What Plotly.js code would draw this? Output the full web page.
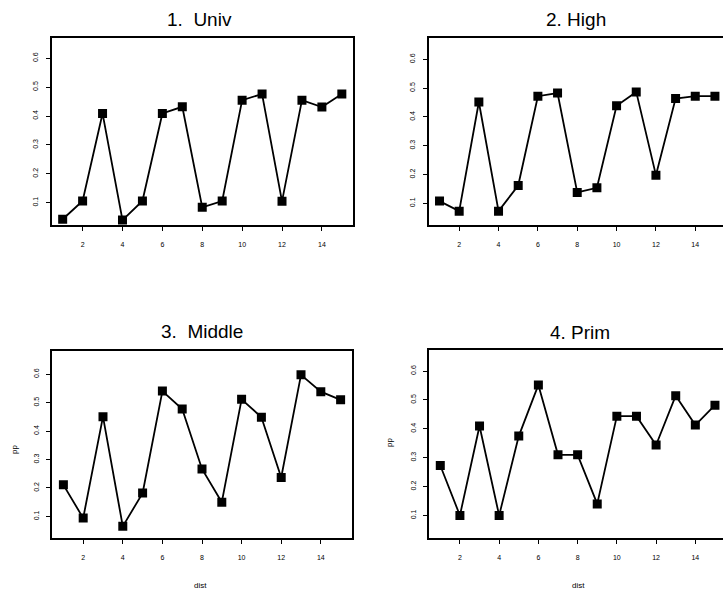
<!DOCTYPE html>
<html>
<head>
<meta charset="utf-8">
<script src="https://cdn.plot.ly/plotly-3.0.1.min.js"></script>
<style>html,body{margin:0;padding:0;background:#fff;}#chart{width:723px;height:595px;}</style>
</head>
<body>
<div id="chart"></div>
<script>
// ---- data ----
const dist = [1,2,3,4,5,6,7,8,9,10,11,12,13,14,15];
const panelTitles = ["1.\u00a0\u00a0Univ", "2.\u00a0High", "3.\u00a0\u00a0Middle", "4.\u00a0Prim"];
const univ   = [0.043,0.106,0.409,0.040,0.106,0.409,0.432,0.084,0.106,0.455,0.476,0.105,0.455,0.431,0.476];
const high   = [0.108,0.073,0.452,0.073,0.162,0.472,0.483,0.138,0.154,0.439,0.487,0.198,0.464,0.472,0.472];
const middle = [0.211,0.094,0.451,0.065,0.182,0.541,0.478,0.267,0.150,0.512,0.449,0.237,0.598,0.539,0.510];
const prim   = [0.273,0.100,0.410,0.100,0.375,0.552,0.310,0.310,0.140,0.444,0.444,0.344,0.515,0.413,0.482];
const xTicks = [2,4,6,8,10,12,14];
const yTicks = [0.1,0.2,0.3,0.4,0.5,0.6];
const xLabel = "dist";
const yLabel = "pp";

const W = 723, H = 595;
const series = [univ, high, middle, prim];

const traces = series.map((ys, i) => ({
  x: dist, y: ys, type: 'scatter', mode: 'lines+markers',
  xaxis: i === 0 ? 'x' : 'x' + (i + 1),
  yaxis: i === 0 ? 'y' : 'y' + (i + 1),
  line: {color: '#000', width: 1.8},
  marker: {symbol: 'square', size: 9, color: '#000'},
  showlegend: false, hoverinfo: 'skip'
}));

// pixel boxes [left, right, top, bottom]
const boxes = [
  [51.5, 353, 38.3, 225],
  [428.5, 723, 38.3, 225],
  [52.3, 351.7, 350.7, 538],
  [429.3, 723, 350, 538]
];
const clipped = [false, true, false, true];
const xRanges = [[0.44,15.56],[0.44,15.41],[0.44,15.56],[0.44,15.41]];
const yRanges = [[0.023,0.669],[0.025,0.673],[0.024,0.683],[0.022,0.673]];

const layout = {
  width: W, height: H,
  margin: {l:0, r:0, t:0, b:0},
  paper_bgcolor: '#fff', plot_bgcolor: '#fff',
  font: {family: 'Liberation Sans, Arial, sans-serif', color: '#000'},
  annotations: [], shapes: []
};

boxes.forEach((b, i) => {
  const xk = i === 0 ? 'xaxis' : 'xaxis' + (i + 1);
  const yk = i === 0 ? 'yaxis' : 'yaxis' + (i + 1);
  layout[xk] = {
    domain: [b[0]/W, b[1]/W], range: xRanges[i],
    anchor: i === 0 ? 'y' : 'y' + (i + 1),
    tickmode: 'array', tickvals: xTicks, ticktext: xTicks.map(String),
    ticks: 'outside', ticklen: 4, tickwidth: 1, tickcolor: '#000',
    ticklabelstandoff: 8,
    tickfont: {size: 7, color: '#000'},
    showline: true, mirror: true, linecolor: '#000', linewidth: 2,
    showgrid: false, zeroline: false
  };
  layout[yk] = {
    domain: [1 - b[3]/H, 1 - b[2]/H], range: yRanges[i],
    anchor: i === 0 ? 'x' : 'x' + (i + 1),
    tickmode: 'array', tickvals: yTicks, ticktext: yTicks.map(v => v.toFixed(1)),
    tickangle: -90,
    ticks: 'outside', ticklen: 4, tickwidth: 1, tickcolor: '#000',
    ticklabelstandoff: 5,
    tickfont: {size: 7, color: '#000'},
    showline: true, mirror: !clipped[i], linecolor: '#000', linewidth: 2,
    showgrid: false, zeroline: false
  };
});

const titlePos = [[199, 20], [576, 20], [201.5, 331], [580, 332]];
titlePos.forEach((p, i) => {
  layout.annotations.push({
    text: panelTitles[i], xref: 'paper', yref: 'paper',
    x: p[0]/W, y: 1 - p[1]/H, xanchor: 'center', yanchor: 'middle',
    showarrow: false, font: {size: 19, color: '#000'}
  });
});
[[200, 585], [578, 585]].forEach(p => {
  layout.annotations.push({
    text: xLabel, xref: 'paper', yref: 'paper', x: p[0]/W, y: 1 - p[1]/H,
    xanchor: 'center', yanchor: 'middle', showarrow: false, font: {size: 8}
  });
});
[[14, 450], [389, 443]].forEach(p => {
  layout.annotations.push({
    text: yLabel, xref: 'paper', yref: 'paper', x: p[0]/W, y: 1 - p[1]/H,
    xanchor: 'center', yanchor: 'middle', textangle: -90, showarrow: false, font: {size: 8}
  });
});

Plotly.newPlot('chart', traces, layout, {staticPlot: true, displayModeBar: false});
</script>
</body>
</html>
